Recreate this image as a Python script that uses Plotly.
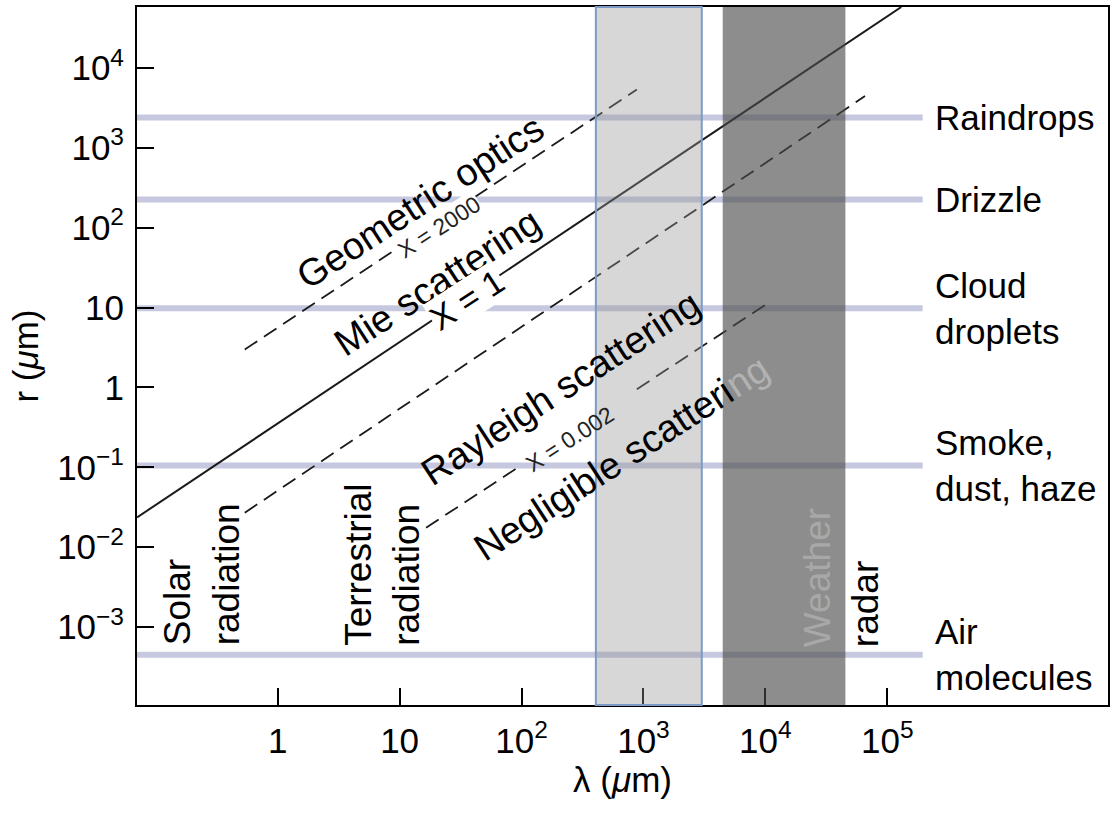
import numpy as np
import plotly.graph_objects as go

FONT = "Liberation Sans, Arial, Helvetica, sans-serif"

# ---------------- data ----------------
# particle categories and their typical radius r (um)
categories = ["Raindrops", "Drizzle", "Cloud<br>droplets", "Smoke,<br>dust, haze", "Air<br>molecules"]
category_r = [2400, 226, 9.8, 0.105, 4.5e-4]
category_lambda = [0.05, 1.95e5]          # λ extent of each category line

# size-parameter boundary lines: (λ, r) points, um  (None = break for the label)
x1_lambda = [0.0702, 1.303e5]
x1_r = [0.02355, 5.807e4]
x2000_lambda = [0.537, 883]
x2000_r = [2.99, 5383]
xmid_lambda = [0.537, 6.561e4]
xmid_r = [0.02698, 4446]
x0002_lambda = [16.48, 98.7, None, 883, 1.104e4]
x0002_r = [0.0175, 0.105, None, 0.95, 11.94]

# wavelength bands (um)
light_band = [407, 3006]
radar_band = [4467, 45290]

# axis ticks
x_tickvals = [1, 10, 100, 1e3, 1e4, 1e5]
x_ticktext = ["1", "10", "10<sup>2</sup>", "10<sup>3</sup>", "10<sup>4</sup>", "10<sup>5</sup>"]
y_tickvals = [1e-3, 1e-2, 1e-1, 1, 10, 100, 1e3, 1e4]
y_ticktext = ["10<sup>\u22123</sup>", "10<sup>\u22122</sup>", "10<sup>\u22121</sup>", "1", "10",
              "10<sup>2</sup>", "10<sup>3</sup>", "10<sup>4</sup>"]

# ---------------- figure ----------------
fig = go.Figure()

for name, r in zip(categories, category_r):
    fig.add_trace(go.Scatter(
        x=category_lambda, y=[r, r], mode="lines",
        line=dict(color="#c5c8df", width=6), hoverinfo="skip", name=name,
    ))

dash_style = "15px,8px"
fig.add_trace(go.Scatter(x=x2000_lambda, y=x2000_r, mode="lines",
                         line=dict(color="#1a1a1a", width=1.8, dash=dash_style), name="X = 2000"))
fig.add_trace(go.Scatter(x=x1_lambda, y=x1_r, mode="lines",
                         line=dict(color="#1a1a1a", width=2), name="X = 1"))
fig.add_trace(go.Scatter(x=xmid_lambda, y=xmid_r, mode="lines",
                         line=dict(color="#1a1a1a", width=1.8, dash=dash_style), name="Mie/Rayleigh"))
fig.add_trace(go.Scatter(x=x0002_lambda, y=x0002_r, mode="lines", connectgaps=False,
                         line=dict(color="#1a1a1a", width=1.8, dash=dash_style), name="X = 0.002"))

# wavelength bands
fig.add_shape(type="rect", xref="x", yref="paper", x0=light_band[0], x1=light_band[1], y0=0, y1=1,
              fillcolor="rgba(150,150,150,0.38)", line=dict(color="#7d9bc6", width=2), layer="above")
fig.add_shape(type="rect", xref="x", yref="paper", x0=radar_band[0], x1=radar_band[1], y0=0, y1=1,
              fillcolor="rgba(75,75,75,0.63)", line=dict(width=0), layer="above")

ANG = -33
big = dict(family=FONT, size=35, color="black")
slant = dict(family=FONT, size=38, color="black")
vert = dict(family=FONT, size=37, color="black")
small = dict(family=FONT, size=23, color="#222222")

def ann(text, x, y, font, angle=0, **kw):
    fig.add_annotation(text=text, x=x, y=y, xref="x", yref="y", showarrow=False,
                       font=font, textangle=angle, **kw)

# regime labels along the boundary lines
ann("Geometric optics", 1.170, 2.317, slant, ANG)
ann("X = 2000", 1.326, 2.004, small, ANG, bgcolor="white", borderpad=0)
ann("Mie scattering", 1.312, 1.319, slant, ANG)
ann("X = 1", 1.549, 1.093, dict(family=FONT, size=34, color="black"), ANG, bgcolor="white", borderpad=0)
ann("Rayleigh scattering", 2.321, -0.004, slant, ANG)
ann("X = 0.002", 2.395, -0.643, small, ANG)
ann('Negligible scatteri<span style="color:#b2b2b2">ng</span>', 2.818, -0.880, slant, ANG)

# vertical spectral labels
ann("Solar<br>radiation", -0.622, -3.256, vert, -90, xanchor="center", yanchor="bottom", align="left")
ann("Terrestrial<br>radiation", 0.859, -3.256, vert, -90, xanchor="center", yanchor="bottom", align="left")
ann('<span style="color:#a8a8a8">Weather</span><br>radar', 4.63, -3.281, vert, -90,
    xanchor="center", yanchor="bottom", align="left")

# category labels on the right
for name, r in zip(categories, category_r):
    ann(name, 5.376, np.log10(r), big, 0, xanchor="left", yanchor="middle", align="left")

axis_common = dict(
    type="log", ticks="inside", ticklen=17, tickwidth=2, tickcolor="black",
    showline=True, linecolor="black", linewidth=2, mirror=True,
    showgrid=False, zeroline=False,
    tickfont=dict(family=FONT, size=35, color="black"),
)
fig.update_xaxes(**axis_common, range=[-1.154, 6.81], tickmode="array",
                 tickvals=x_tickvals, ticktext=x_ticktext, ticklabelstandoff=4,
                 title=dict(text="\u03bb (<i>\u03bc</i>m)", font=dict(family=FONT, size=35), standoff=6))
fig.update_yaxes(**axis_common, range=[-3.977, 4.764], tickmode="array",
                 tickvals=y_tickvals, ticktext=y_ticktext, ticklabelstandoff=4,
                 title=dict(text="r (<i>\u03bc</i>m)", font=dict(family=FONT, size=35), standoff=8))

fig.update_layout(
    width=1112, height=813,
    margin=dict(l=137, r=2, t=7, b=108),
    plot_bgcolor="white", paper_bgcolor="white",
    showlegend=False,
    font=dict(family=FONT, size=35, color="black"),
)

fig.write_html("out.html", config={"displayModeBar": False},
               post_script="document.body.style.margin='0';")
